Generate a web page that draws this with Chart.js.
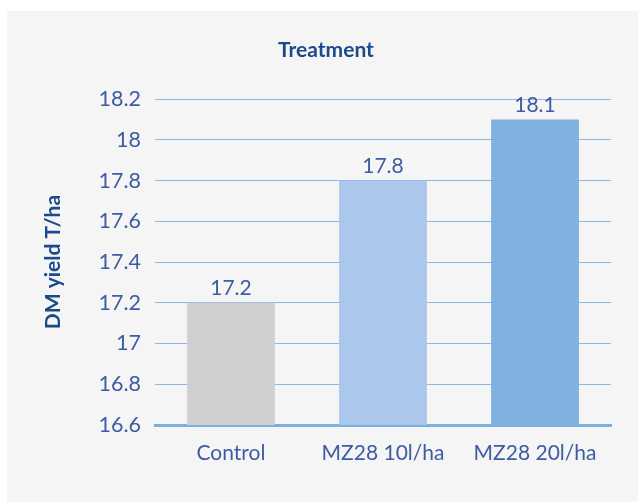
<!DOCTYPE html>
<html>
<head>
<meta charset="utf-8">
<script src="https://cdn.jsdelivr.net/npm/chart.js@4/dist/chart.umd.min.js"></script>
<style>
html,body{margin:0;padding:0;background:#fff;}
canvas{display:block;}
</style>
</head>
<body>
<canvas id="c" width="638" height="502"></canvas>
<script>
const categories = ["Control", "MZ28 10l/ha", "MZ28 20l/ha"];
const yieldValues = [17.2, 17.8, 18.1];
const barColors = ["#D0D0D0", "#ABC8EC", "#80B1E1"];
const chartTitle = "Treatment";
const yTitle = "DM yield T/ha";

const tickColor = "#3D5CA3";
const titleColor = "#1A4A8C";

const bgPlugin = {
  id: 'bg',
  beforeDraw(chart) {
    const ctx = chart.ctx;
    ctx.save();
    ctx.fillStyle = '#ffffff';
    ctx.fillRect(0, 0, chart.width, chart.height);
    ctx.fillStyle = '#F5F5F5';
    ctx.fillRect(7, 11, chart.width - 7, chart.height - 11);
    ctx.restore();
  }
};

const labelPlugin = {
  id: 'vals',
  afterDatasetsDraw(chart) {
    const ctx = chart.ctx;
    const meta = chart.getDatasetMeta(0);
    ctx.save();
    ctx.font = '21px Lato';
    ctx.fillStyle = tickColor;
    ctx.textAlign = 'center';
    ctx.textBaseline = 'alphabetic';
    meta.data.forEach((bar, i) => {
      ctx.fillText(String(yieldValues[i]), bar.x, bar.y - 8);
    });
    ctx.restore();
  }
};

new Chart(document.getElementById('c'), {
  type: 'bar',
  data: {
    labels: categories,
    datasets: [{
      data: yieldValues,
      backgroundColor: barColors,
      borderWidth: 0,
      categoryPercentage: 1,
      barPercentage: 0.578
    }]
  },
  options: {
    responsive: false,
    animation: false,
    layout: { padding: { left: 14, right: 0, top: 0, bottom: 0 } },
    plugins: {
      legend: { display: false },
      tooltip: { enabled: false },
      title: {
        display: true,
        text: chartTitle,
        color: titleColor,
        font: { family: 'Lato', size: 21, weight: 'bold' },
        padding: { top: 38, bottom: 36 }
      }
    },
    scales: {
      x: {
        grid: { display: false, drawTicks: false },
        border: { display: true, color: '#7DAEE0', width: 3 },
        ticks: { color: tickColor, font: { family: 'Lato', size: 21 }, padding: 16, maxRotation: 0 },
        afterFit(scale) { scale.height = 77; }
      },
      y: {
        min: 16.6,
        max: 18.2,
        grid: { color: '#8DB6E3', lineWidth: 1, drawTicks: false },
        border: { display: false },
        ticks: {
          stepSize: 0.2,
          color: tickColor,
          font: { family: 'Lato', size: 21.5 },
          padding: 14,
          callback: v => String(Math.round(v * 10) / 10)
        },
        title: {
          display: true,
          text: yTitle,
          color: titleColor,
          font: { family: 'Lato', size: 21, weight: 'bold' },
          padding: { top: 27, bottom: 0 }
        },
        afterFit(scale) { scale.width = 141; }
      },
      yRight: {
        position: 'right',
        display: true,
        min: 16.6,
        max: 18.2,
        grid: { display: false, drawTicks: false },
        border: { display: false },
        ticks: { display: false },
        afterFit(scale) { scale.width = 27; }
      }
    }
  },
  plugins: [bgPlugin, labelPlugin]
});
</script>
</body>
</html>
